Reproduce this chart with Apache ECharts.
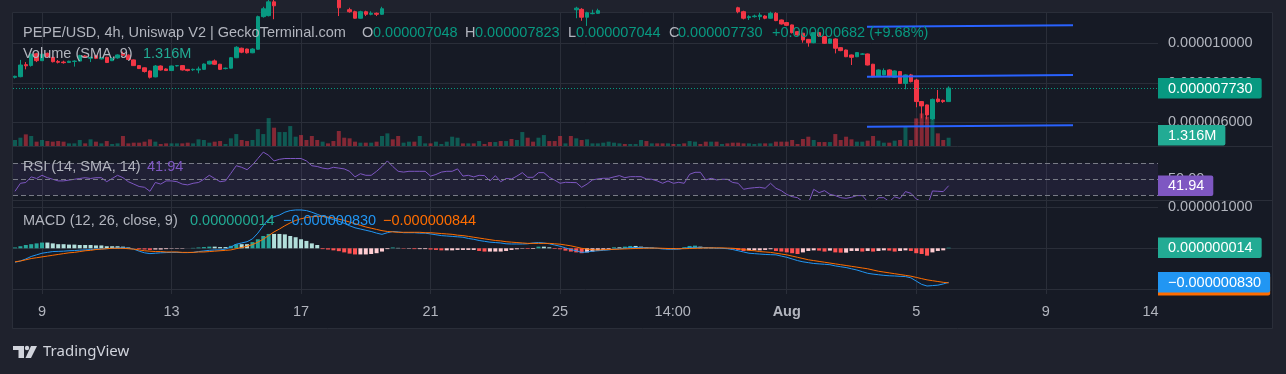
<!DOCTYPE html>
<html>
<head>
<meta charset="utf-8">
<script src="https://cdn.jsdelivr.net/npm/echarts@6/dist/echarts.min.js"></script>
<style>
html,body{margin:0;padding:0;background:#1f222d;}
#chart{width:1286px;height:374px;}
</style>
</head>
<body>
<div id="chart"></div>
<script>
// ---------------- DATA (prices & MACD in micro-USD, volume in millions) ----------------
const SCALE = 1e-6;
const BAR_START_DAY = 8 + 4 / 24;   // first bar: Jul 8 04:00 (x unit = day of July, Aug 1 = 32)
const BAR_STEP_DAY = 4 / 24;        // 4h bars

// [open, close, low, high]
const candles = [
  [8.28,8.33,8.22,8.36],[8.31,8.90,8.28,9.16],[8.92,8.86,8.68,9.05],[8.88,9.45,8.82,9.49],[9.47,9.12,9.05,9.52],
  [9.12,9.45,9.10,9.50],[9.49,9.32,9.28,9.53],[9.29,9.07,9.03,9.31],[9.08,9.04,8.98,9.16],[9.05,9.02,8.97,9.12],
  [9.03,9.09,9.00,9.12],[9.08,9.10,8.82,9.14],[9.10,9.38,9.07,9.42],[9.36,9.29,9.26,9.40],[9.24,9.28,9.05,9.33],
  [9.38,9.24,9.20,9.41],[9.21,9.26,9.18,9.30],[9.29,9.03,9.00,9.32],[9.12,9.24,9.10,9.27],[9.26,9.41,9.22,9.44],
  [9.49,9.40,9.35,9.58],[9.40,9.18,9.15,9.43],[9.16,8.87,8.85,9.18],[8.87,8.72,8.70,8.90],[8.76,8.57,8.52,8.78],
  [8.60,8.28,8.22,8.63],[8.30,8.85,8.28,8.90],[8.85,8.65,8.62,8.88],[8.70,8.62,8.60,8.73],[8.62,8.85,8.60,8.87],
  [8.86,8.87,8.82,8.90],[8.87,8.65,8.62,8.89],[8.68,8.62,8.58,8.70],[8.66,8.68,8.60,8.72],[8.65,8.70,8.48,8.82],
  [8.68,8.95,8.66,8.98],[8.95,9.09,8.93,9.12],[9.11,8.94,8.90,9.18],[8.94,8.68,8.65,8.96],[8.72,8.74,8.68,8.77],
  [8.74,9.27,8.72,9.30],[9.27,9.80,9.25,9.85],[9.75,9.55,9.50,9.78],[9.71,9.52,9.48,9.73],[9.52,9.71,9.50,9.75],
  [9.70,11.35,9.68,11.40],[11.35,11.75,11.30,11.85],[11.40,12.10,11.36,12.20],[12.10,11.90,11.22,12.30],[11.90,12.40,11.80,12.50],
  [12.40,12.80,12.30,12.90],[12.80,13.40,12.70,13.60],[13.40,13.50,13.10,13.70],[13.50,13.30,13.10,13.70],[13.30,13.00,12.80,13.40],
  [13.00,12.60,12.40,13.10],[12.60,12.50,12.30,12.80],[12.50,12.60,12.30,12.70],[12.60,12.40,12.20,12.70],[12.40,12.20,12.00,12.50],
  [12.20,11.80,11.38,12.30],[11.80,11.70,11.60,11.90],[11.70,11.60,11.55,11.80],[11.60,11.27,11.25,11.65],[11.27,11.60,11.25,11.65],
  [11.60,11.47,11.38,11.65],[11.47,11.52,11.42,11.62],[11.52,11.47,11.38,11.56],[11.47,11.75,11.44,11.85],[11.75,12.30,11.70,12.40],
  [12.30,12.10,12.00,12.40],[12.10,12.00,11.90,12.20],[12.00,12.10,11.95,12.20],[12.10,12.15,12.00,12.25],[12.15,12.10,12.00,12.20],
  [12.10,12.15,11.95,12.30],[12.15,12.20,12.10,12.25],[12.20,11.95,11.90,12.20],[11.95,12.05,11.90,12.10],[12.05,12.15,12.00,12.20],
  [12.15,12.20,12.10,12.30],[12.20,12.25,12.00,12.40],[12.25,12.40,12.20,12.50],[12.40,12.05,12.00,12.45],[12.05,12.15,12.00,12.20],
  [12.15,12.05,12.00,12.20],[12.05,12.15,12.00,12.20],[12.15,12.10,12.00,12.20],[12.10,11.90,11.85,12.15],[11.90,12.15,11.85,12.20],
  [12.15,11.90,11.85,12.20],[11.90,12.00,11.85,12.05],[12.00,11.95,11.90,12.05],[11.95,12.10,11.90,12.15],[12.10,12.35,12.05,12.45],
  [12.35,12.15,12.10,12.40],[12.15,12.14,12.05,12.25],[12.14,12.35,12.10,12.40],[12.35,12.40,12.30,12.50],[12.40,12.20,12.15,12.45],
  [12.20,12.05,12.00,12.25],[12.05,11.85,11.80,12.10],[11.85,11.90,11.80,11.95],[11.90,11.70,11.60,11.95],[11.70,11.78,11.27,11.85],
  [11.72,11.32,11.14,11.78],[11.32,11.55,10.88,11.60],[11.50,11.52,11.47,11.70],[11.52,11.65,11.50,11.75],[11.65,11.70,11.60,11.75],
  [11.70,11.72,11.65,11.80],[11.72,11.85,11.70,11.90],[11.85,11.95,11.80,12.00],[11.95,11.90,11.85,12.00],[11.90,12.00,11.85,12.05],
  [12.00,12.01,11.95,12.05],[12.01,12.05,11.90,12.15],[12.05,11.95,11.90,12.10],[11.95,11.96,11.90,12.00],[11.96,11.90,11.85,12.00],
  [11.90,11.80,11.75,11.95],[11.80,11.88,11.75,11.90],[11.88,11.80,11.75,11.90],[11.80,11.82,11.75,11.85],[11.82,11.80,11.75,11.85],
  [11.80,12.10,11.78,12.15],[12.10,12.20,12.05,12.25],[12.20,12.15,12.10,12.25],[12.15,11.90,11.85,12.20],[11.90,12.00,11.85,12.05],
  [12.00,11.92,11.88,12.02],[11.92,11.95,11.88,12.00],[11.95,11.90,11.85,12.00],[11.90,11.80,11.70,11.95],[11.80,11.60,11.52,11.85],
  [11.60,11.27,11.21,11.65],[11.30,11.35,11.18,11.42],[11.35,11.38,11.30,11.45],[11.35,11.43,11.18,11.55],[11.38,11.27,11.22,11.42],
  [11.27,11.52,11.25,11.60],[11.52,11.15,11.12,11.58],[11.18,10.98,10.95,11.20],[11.05,10.91,10.88,11.08],[10.93,10.54,10.50,10.95],
  [10.59,10.42,10.38,10.62],[10.51,10.17,10.03,10.53],[10.20,10.03,9.83,10.22],[10.03,10.54,10.00,10.56],[10.54,10.37,10.33,10.58],
  [10.34,10.00,9.97,10.36],[10.00,10.22,9.97,10.25],[10.22,9.75,9.49,10.25],[9.78,9.63,9.60,9.80],[9.66,9.32,9.30,9.68],
  [9.41,9.29,8.90,9.43],[9.32,9.53,9.30,9.56],[9.45,9.46,9.42,9.50],[9.46,8.90,8.88,9.48],[8.94,8.31,8.28,8.96],
  [8.34,8.65,8.30,8.68],[8.40,8.62,8.38,8.73],[8.65,8.31,8.28,8.68],[8.28,8.60,8.25,8.63],[8.57,7.97,7.95,8.60],
  [7.97,8.40,7.67,8.43],[8.40,8.06,8.02,8.45],[8.14,7.05,6.76,8.20],[7.05,6.83,6.20,7.08],[6.88,6.37,6.15,6.90],
  [6.17,7.16,6.12,7.20],[7.18,7.05,7.00,7.64],[7.11,7.048,6.98,7.15],[7.048,7.730,7.044,7.823]
];

const volumes = [
  0.95,1.32,1.85,1.59,0.69,0.95,0.79,0.69,0.79,0.69,
  0.42,0.42,0.95,0.42,1.06,0.69,0.42,0.79,0.32,0.42,
  1.59,0.42,0.53,0.53,0.69,1.06,0.69,0.32,0.42,0.42,
  0.42,0.42,0.53,0.42,1.06,0.95,0.53,0.69,0.79,0.32,
  1.22,1.90,0.95,0.79,0.95,2.69,1.90,4.44,2.91,2.22,
  2.22,3.17,1.48,1.74,0.95,1.59,0.95,0.69,0.42,0.79,
  2.38,1.32,1.22,0.69,0.53,0.53,0.53,0.69,1.59,2.01,
  1.06,1.59,0.53,0.69,0.69,1.59,0.42,0.42,0.69,0.32,
  0.69,1.48,1.32,0.42,0.42,0.42,0.79,0.32,0.63,0.63,
  0.79,0.79,1.11,0.95,2.22,1.32,0.69,1.32,1.74,0.79,
  0.79,1.59,0.42,1.59,1.22,0.95,1.06,0.42,0.42,0.53,
  0.69,0.53,0.42,0.32,0.32,0.32,0.95,0.79,0.42,0.42,
  0.42,0.42,0.32,0.32,0.42,0.79,0.69,0.32,0.69,0.69,
  0.69,0.32,0.42,0.53,0.53,0.42,0.42,0.32,0.42,0.42,
  0.42,0.69,0.69,0.69,0.95,0.32,1.11,1.48,0.95,0.63,
  0.63,0.63,1.90,0.95,1.48,1.06,0.69,0.69,0.85,1.59,
  0.85,0.53,0.53,0.85,0.95,3.17,0.95,4.39,5.18,4.65,
  4.23,2.01,0.95,1.316
];

const rsi = [
  35,45,46,53,51,55,52,50,48,48,
  49,50,51,52,51,52,52,47,51,55,
  52,47,44,41,40,35,46,44,48,48,
  47,44,43,45,46,50,55,51,47,48,
  57.5,67,65,62,68,76,84,80,73,75,
  76,76,76,76,73,67,66,64,63,65,
  64,63,60,53,57,55,55,60,66,73,
  66,60,59,60,60,60,60,54,56,59,
  60,60,63,54,55,53,55,54.6,48,54.6,
  47,51,50.4,54,58.3,52.5,52.5,58.3,58.3,52.5,
  49,45,46.25,46,45.8,40,44,49.2,50.5,51.25,
  51.25,53,54.6,52,53.3,53.3,53.3,50.4,50,48,
  45,47.9,45,46.25,45,56.25,58.75,58.75,49.2,51.25,
  49.2,50,50,46,45,37.5,38.75,39.5,40,38.75,
  45,38.75,35.8,31,28.3,27,22,20,37.5,33.3,
  35.8,31.25,29.6,27,26.25,27.5,29.6,29.6,22,20,
  27,27,22,28,26,34.6,32.5,25.4,22,15,
  35.4,35,34.6,41.94
];

const macd = [
  -0.34,-0.31,-0.26,-0.20,-0.16,-0.12,-0.10,-0.08,-0.075,-0.07,
  -0.06,-0.055,-0.045,-0.04,-0.03,-0.02,-0.015,-0.01,0.0,0.01,
  0.015,0.0,-0.02,-0.07,-0.11,-0.13,-0.12,-0.11,-0.105,-0.10,
  -0.10,-0.105,-0.105,-0.10,-0.08,-0.065,-0.05,-0.04,-0.04,-0.02,
  0.03,0.10,0.13,0.16,0.23,0.37,0.55,0.72,0.77,0.81,
  0.88,0.92,0.935,0.935,0.92,0.88,0.83,0.78,0.74,0.70,
  0.66,0.61,0.55,0.50,0.47,0.44,0.41,0.37,0.34,0.38,
  0.41,0.40,0.38,0.38,0.38,0.37,0.37,0.35,0.33,0.31,
  0.30,0.29,0.28,0.27,0.24,0.22,0.19,0.17,0.15,0.14,
  0.13,0.11,0.105,0.105,0.105,0.11,0.13,0.14,0.13,0.11,
  0.08,0.05,0.01,-0.03,-0.06,-0.10,-0.09,-0.07,-0.06,-0.05,
  -0.04,-0.02,-0.01,0.0,0.02,0.02,0.02,0.015,0.01,0.0,
  -0.016,-0.02,-0.024,-0.02,0.0,0.02,0.025,0.02,0.015,0.01,
  0.005,0.0,-0.01,-0.03,-0.06,-0.09,-0.12,-0.13,-0.14,-0.15,
  -0.155,-0.16,-0.19,-0.22,-0.26,-0.30,-0.33,-0.35,-0.37,-0.38,
  -0.39,-0.40,-0.43,-0.45,-0.47,-0.50,-0.53,-0.57,-0.61,-0.63,
  -0.645,-0.66,-0.67,-0.675,-0.685,-0.69,-0.72,-0.80,-0.88,-0.92,
  -0.91,-0.90,-0.87,-0.83
];

const signal = [
  -0.33,-0.31,-0.28,-0.25,-0.23,-0.21,-0.19,-0.17,-0.15,-0.13,
  -0.11,-0.10,-0.08,-0.06,-0.05,-0.03,-0.02,-0.01,0.0,0.0,
  0.0,-0.01,-0.02,-0.04,-0.06,-0.07,-0.08,-0.08,-0.09,-0.09,
  -0.09,-0.10,-0.10,-0.10,-0.09,-0.09,-0.08,-0.07,-0.06,-0.05,
  -0.04,-0.01,0.02,0.05,0.09,0.15,0.22,0.31,0.40,0.47,
  0.55,0.62,0.68,0.72,0.75,0.77,0.78,0.78,0.76,0.74,
  0.71,0.68,0.64,0.60,0.56,0.52,0.49,0.46,0.43,0.41,
  0.40,0.39,0.39,0.39,0.39,0.39,0.38,0.38,0.37,0.36,
  0.35,0.34,0.32,0.31,0.29,0.27,0.25,0.23,0.21,0.19,
  0.18,0.16,0.15,0.14,0.13,0.12,0.12,0.12,0.12,0.12,
  0.11,0.10,0.08,0.06,0.03,0.0,-0.02,-0.035,-0.04,-0.035,
  -0.03,-0.025,-0.02,-0.015,-0.01,-0.005,0.0,0.005,0.005,0.005,
  0.0,-0.005,-0.01,-0.01,-0.01,-0.005,0.0,0.005,0.01,0.01,
  0.01,0.01,0.005,0.0,-0.01,-0.03,-0.05,-0.06,-0.08,-0.09,
  -0.10,-0.12,-0.14,-0.16,-0.19,-0.22,-0.25,-0.28,-0.30,-0.32,
  -0.34,-0.36,-0.38,-0.40,-0.42,-0.44,-0.46,-0.48,-0.50,-0.53,
  -0.56,-0.58,-0.60,-0.62,-0.64,-0.66,-0.68,-0.71,-0.74,-0.77,
  -0.79,-0.81,-0.83,-0.844
];

const hist = [
  0.02,0.05,0.08,0.10,0.12,0.14,0.14,0.12,0.10,0.10,
  0.09,0.09,0.08,0.08,0.08,0.07,0.07,0.05,0.05,0.05,
  0.04,0.02,0.00,-0.02,-0.03,-0.04,-0.03,-0.03,-0.02,-0.01,
  -0.01,-0.01,0.00,0.01,0.02,0.03,0.04,0.04,0.03,0.03,
  0.06,0.10,0.10,0.10,0.15,0.22,0.30,0.35,0.35,0.35,
  0.34,0.30,0.27,0.22,0.18,0.12,0.08,-0.02,-0.03,-0.05,
  -0.07,-0.10,-0.13,-0.15,-0.15,-0.15,-0.14,-0.12,-0.08,-0.02,
  0.02,0.01,-0.01,-0.01,-0.02,-0.02,-0.02,-0.03,-0.04,-0.05,
  -0.05,-0.05,-0.04,-0.04,-0.04,-0.04,-0.065,-0.08,-0.08,-0.08,
  -0.08,-0.065,-0.04,-0.024,-0.01,-0.016,-0.016,0.04,0.04,0.024,
  -0.016,-0.024,-0.057,-0.08,-0.10,-0.12,-0.10,-0.08,-0.057,-0.04,
  -0.024,0.024,0.024,0.04,0.057,0.057,0.04,0.024,0.016,0.004,
  -0.016,-0.024,-0.016,-0.02,0.024,0.057,0.065,0.04,0.024,0.016,
  0.008,-0.008,-0.016,-0.024,-0.04,-0.065,-0.05,-0.05,-0.05,-0.04,
  -0.024,-0.065,-0.08,-0.10,-0.12,-0.14,-0.10,-0.065,-0.05,-0.057,
  -0.08,-0.057,-0.10,-0.106,-0.106,-0.065,-0.065,-0.08,-0.065,-0.08,
  -0.065,-0.05,-0.057,-0.08,-0.065,-0.05,-0.065,-0.12,-0.14,-0.18,
  -0.10,-0.065,-0.05,0.014
];

// axis ticks / labels
const dayTicks = [9, 13, 17, 21, 25, 28.48, 32, 36, 40];
const dayTickLabels = ['9', '13', '17', '21', '25', '14:00', 'Aug', '5', '9'];
const edgeTick = 43.234, edgeTickLabel = '14';
const priceTicks = [6, 8, 10];
const rsiLabelTicks = [50];
const rsiLevels = [70, 50, 30];
const macdTicks = [0, 1];
// user-drawn trend lines: [x1, price1, x2, price2]
const trendLines = [
  [34.479, 10.835, 40.841, 10.911],
  [34.479, 8.309, 40.841, 8.395],
  [34.479, 5.777, 40.841, 5.848]
];

// ---------------- CHART ----------------
const FONT = 'Liberation Sans';
const FS = 14.5;
const FONT_CSS = FS + 'px "Liberation Sans"';
const GRID_C = '#2a2e39';
const TXT_C = '#b2b5be';
const UP = '#089981', DOWN = '#f23645';
const XMIN = 8.1044, XMAX = 43.466;

const xs = candles.map((_, i) => BAR_START_DAY + i * BAR_STEP_DAY);
const candleData = candles.map((c, i) => [xs[i], c[0], c[1], c[2], c[3]]);
const volData = volumes.map((v, i) => ({
  value: [xs[i], v],
  itemStyle: { color: candles[i][1] >= candles[i][0] ? 'rgba(8,153,129,0.5)' : 'rgba(242,54,69,0.5)' }
}));
const histData = hist.map((v, i) => {
  const p = i > 0 ? hist[i - 1] : 0;
  let col;
  if (v >= 0) col = v > p ? '#26a69a' : '#b2dfdb';
  else col = v < p ? '#ff5252' : '#ffcdd2';
  return { value: [xs[i], v], itemStyle: { color: col } };
});

const fmtP = v => (v * SCALE).toFixed(9).replace('-', '\u2212');
const axisText = { color: TXT_C, fontSize: FS, fontFamily: FONT };

const chart = echarts.init(document.getElementById('chart'), null, { renderer: 'canvas', width: 1286, height: 374 });

const xAxes = [0, 1, 2].map(k => ({
  type: 'value', gridIndex: k, min: XMIN, max: XMAX,
  axisLine: { show: k === 2, onZero: false, lineStyle: { color: GRID_C } },
  axisTick: { show: k === 2, customValues: dayTicks, length: 5, lineStyle: { color: GRID_C } },
  splitLine: { show: true, lineStyle: { color: GRID_C, width: 1 } },
  axisLabel: k === 2 ? Object.assign({
    customValues: dayTicks.concat([edgeTick]),
    margin: 15,
    formatter: v => {
      if (Math.abs(v - edgeTick) < 1e-6) return edgeTickLabel;
      const idx = dayTicks.findIndex(t => Math.abs(t - v) < 1e-6);
      const s = idx >= 0 ? dayTickLabels[idx] : '';
      return s === 'Aug' ? '{b|Aug}' : s;
    },
    rich: { b: { fontWeight: 'bold', fontSize: FS, fontFamily: FONT, color: TXT_C } }
  }, axisText) : { show: false }
}));

const option = {
  animation: false,
  backgroundColor: '#1f222d',
  grid: [
    { left: 13, top: 12, width: 1145, height: 134 },
    { left: 13, top: 147, width: 1145, height: 53 },
    { left: 13, top: 200, width: 1145, height: 89 }
  ],
  xAxis: xAxes,
  yAxis: [
    { type: 'value', gridIndex: 0, position: 'right', min: 4.80, max: 11.585,
      axisLine: { show: false }, axisTick: { show: false, customValues: priceTicks },
      axisLabel: Object.assign({ customValues: priceTicks, margin: 10, formatter: v => fmtP(v) }, axisText),
      splitLine: { show: true, lineStyle: { color: GRID_C } } },
    { type: 'value', gridIndex: 0, min: 0, max: 21.3, show: false, splitLine: { show: false } },
    { type: 'value', gridIndex: 1, position: 'right', min: 24.1, max: 90.4,
      axisLine: { show: false }, axisTick: { show: false, customValues: rsiLabelTicks },
      axisLabel: Object.assign({ customValues: rsiLabelTicks, margin: 10, formatter: v => v.toFixed(2) }, axisText),
      splitLine: { show: false } },
    { type: 'value', gridIndex: 2, position: 'right', min: -0.993, max: 1.178,
      axisLine: { show: false }, axisTick: { show: false, customValues: macdTicks },
      axisLabel: Object.assign({ customValues: macdTicks, margin: 10, formatter: v => fmtP(v) }, axisText),
      splitLine: { show: true, lineStyle: { color: GRID_C } } }
  ],
  series: [
    { type: 'bar', name: 'volume', xAxisIndex: 0, yAxisIndex: 1, data: volData, barWidth: 4, z: 1, silent: true },
    { type: 'candlestick', name: 'price', xAxisIndex: 0, yAxisIndex: 0, data: candleData,
      encode: { x: 0, y: [1, 2, 3, 4] }, barWidth: 4, clip: true, z: 3, silent: true,
      itemStyle: { color: UP, color0: DOWN, borderColor: UP, borderColor0: DOWN, borderWidth: 1 },
      markLine: { silent: true, symbol: 'none', label: { show: false },
        lineStyle: { color: UP, type: [1, 2], width: 1 },
        data: [{ yAxis: candles[candles.length - 1][1] }] } },
    ...trendLines.map(t => ({
      type: 'line', xAxisIndex: 0, yAxisIndex: 0, data: [[t[0], t[1]], [t[2], t[3]]],
      symbol: 'none', z: 5, silent: true, lineStyle: { color: '#2962ff', width: 2 }
    })),
    { type: 'line', name: 'RSI', xAxisIndex: 1, yAxisIndex: 2, data: rsi.map((v, i) => [xs[i], v]),
      symbol: 'none', z: 4, silent: true, lineStyle: { color: '#7e57c2', width: 1 },
      markLine: { silent: true, symbol: 'none', label: { show: false },
        lineStyle: { color: '#787b86', type: [5, 3], width: 1 },
        data: rsiLevels.map(v => ({ yAxis: v })) },
      markArea: { silent: true, itemStyle: { color: 'rgba(126,87,194,0.1)' },
        data: [[{ yAxis: rsiLevels[2] }, { yAxis: rsiLevels[0] }]] } },
    { type: 'bar', name: 'hist', xAxisIndex: 2, yAxisIndex: 3, data: histData, barWidth: 4, z: 2, silent: true },
    { type: 'line', name: 'macd', xAxisIndex: 2, yAxisIndex: 3, data: macd.map((v, i) => [xs[i], v]),
      symbol: 'none', z: 4, silent: true, lineStyle: { color: '#2196f3', width: 1 } },
    { type: 'line', name: 'signal', xAxisIndex: 2, yAxisIndex: 3, data: signal.map((v, i) => [xs[i], v]),
      symbol: 'none', z: 4, silent: true, lineStyle: { color: '#ff6d00', width: 1 } }
  ]
};
chart.setOption(option);

// ---------------- overlays: frame, legends, price badges, logo ----------------
const mctx = document.createElement('canvas').getContext('2d');
mctx.font = FONT_CSS;
const measure = s => mctx.measureText(s).width;

function txt(x, y, text, color, font) {
  return { type: 'text', z: 50, silent: true,
    style: { x, y, text, fill: color, font: font || FONT_CSS, verticalAlign: 'middle', align: 'left' } };
}
function badgeEls(cy, text, bg, z) {
  const w = measure(text) + 19;
  return [
    { type: 'rect', z: z, silent: true, shape: { x: 1158, y: cy - 10.25, width: w, height: 20.5, r: [0, 2, 2, 0] }, style: { fill: bg } },
    { type: 'text', z: z + 1, silent: true, style: { x: 1168, y: cy + 0.5, text, fill: '#ffffff', font: FONT_CSS, verticalAlign: 'middle' } }
  ];
}

const last = candles[candles.length - 1];
const prevClose = candles[candles.length - 2][1];
const chg = last[1] - prevClose;
const pct = chg / prevClose * 100;
const lastVol = volumes[volumes.length - 1];
const lastRsi = rsi[rsi.length - 1];
const lastHist = hist[hist.length - 1], lastMacd = macd[macd.length - 1], lastSig = signal[signal.length - 1];

const yPrice = chart.convertToPixel({ yAxisIndex: 0 }, last[1]);
const yVol = Math.min(chart.convertToPixel({ yAxisIndex: 1 }, lastVol), 146 - 10.7);
const yRsi = chart.convertToPixel({ yAxisIndex: 2 }, lastRsi);
const yHist = chart.convertToPixel({ yAxisIndex: 3 }, lastHist);
const yMacd = chart.convertToPixel({ yAxisIndex: 3 }, lastMacd);

const G = '#089981';
const graphics = [
  { type: 'rect', z: -10, silent: true, shape: { x: 12.5, y: 12.5, width: 1260, height: 316 }, style: { fill: '#161a25', stroke: GRID_C, lineWidth: 1 } },
  { type: 'line', z: 6, silent: true, shape: { x1: 13, y1: 146.5, x2: 1272, y2: 146.5 }, style: { stroke: GRID_C, lineWidth: 1 } },
  { type: 'line', z: 6, silent: true, shape: { x1: 13, y1: 200.5, x2: 1272, y2: 200.5 }, style: { stroke: GRID_C, lineWidth: 1 } },
  // legends
  txt(23, 33, 'PEPE/USD, 4h, Uniswap V2 | GeckoTerminal.com', TXT_C),
  txt(362, 33, 'O', TXT_C), txt(373, 33, fmtP(last[0]), G),
  txt(465, 33, 'H', TXT_C), txt(475, 33, fmtP(last[3]), G),
  txt(568, 33, 'L', TXT_C), txt(576, 33, fmtP(last[2]), G),
  txt(669, 33, 'C', TXT_C), txt(678, 33, fmtP(last[1]), G),
  txt(772, 33, (chg >= 0 ? '+' : '\u2212') + fmtP(Math.abs(chg)) + ' (' + (pct >= 0 ? '+' : '\u2212') + Math.abs(pct).toFixed(2) + '%)', G),
  txt(23, 54, 'Volume (SMA, 9)', TXT_C), txt(143, 54, lastVol.toFixed(3) + 'M', '#22ab94'),
  txt(23, 167, 'RSI (14, SMA, 14)', TXT_C), txt(147, 167, lastRsi.toFixed(2), '#7e57c2'),
  txt(23, 221, 'MACD (12, 26, close, 9)', TXT_C),
  txt(190, 221, fmtP(lastHist), '#22ab94'),
  txt(283, 221, fmtP(lastMacd), '#2196f3'),
  txt(383, 221, fmtP(lastSig), '#ff6d00'),
  // badges
  ...badgeEls(yPrice, fmtP(last[1]), '#089981', 60),
  ...badgeEls(yVol, lastVol.toFixed(3) + 'M', '#22ab94', 60),
  ...badgeEls(yRsi, lastRsi.toFixed(2), '#7e57c2', 60),
  ...badgeEls(yHist, fmtP(lastHist), '#22ab94', 60),
  { type: 'rect', z: 58, silent: true, shape: { x: 1158, y: yMacd - 10.25 + 3, width: measure(fmtP(lastMacd)) + 19, height: 20.5, r: [0, 2, 2, 0] }, style: { fill: '#ff6d00' } },
  ...badgeEls(yMacd, fmtP(lastMacd), '#2196f3', 62),
  // TradingView logo
  { type: 'polygon', z: 50, silent: true, shape: { points: [[13, 346], [24, 346], [24, 358], [18.5, 358], [18.5, 350], [13, 350]] }, style: { fill: '#d1d4dc' } },
  { type: 'circle', z: 50, silent: true, shape: { cx: 27, cy: 348, r: 2.2 }, style: { fill: '#d1d4dc' } },
  { type: 'polygon', z: 50, silent: true, shape: { points: [[31, 346], [37, 346], [31, 358], [25.5, 358]] }, style: { fill: '#d1d4dc' } },
  txt(43, 352, 'TradingView', '#d1d4dc', '15px "Noto Sans"')
];
chart.setOption({ graphic: graphics });
</script>
</body>
</html>
